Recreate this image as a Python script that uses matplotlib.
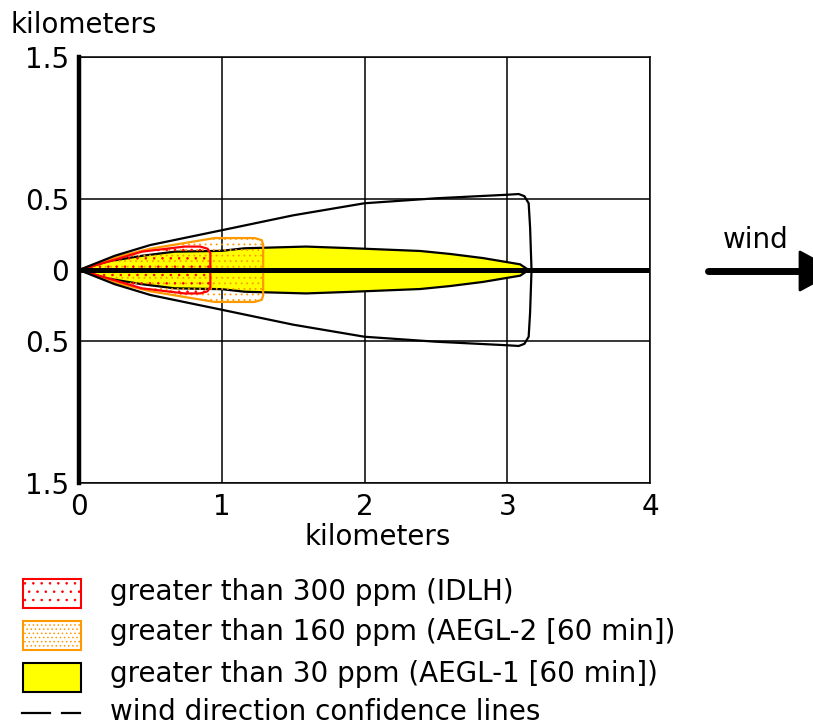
import numpy as np
import matplotlib
matplotlib.use('Agg')
from matplotlib import pyplot as plt
from matplotlib.patches import Rectangle, Polygon

# threat zones, upper half-width (km) along the downwind distance (km); zones are symmetric
red_x = [0, 0.2, 0.44, 0.74, 0.85, 0.9, 0.92, 0.92]
red_w = [0, 0.058, 0.129, 0.165, 0.165, 0.15, 0.12, 0]

orange_x = [0, 0.27, 0.5, 0.74, 0.95, 1.23, 1.28, 1.29, 1.29]
orange_w = [0, 0.094, 0.15, 0.19, 0.225, 0.225, 0.21, 0.18, 0]

yellow_x = [0, 0.2, 0.44, 0.67, 1.0, 1.16, 1.59, 1.87, 2.39, 2.6, 2.83, 3.09, 3.15]
yellow_w = [0, 0.06, 0.10, 0.129, 0.135, 0.153, 0.165, 0.155, 0.134, 0.113, 0.084, 0.04, 0]

# wind direction confidence lines
conf_x = [0, 0.25, 0.5, 1.0, 1.5, 2.0, 2.5, 3.0, 3.08, 3.12, 3.15, 3.16, 3.17]
conf_w = [0, 0.10, 0.176, 0.28, 0.385, 0.47, 0.505, 0.53, 0.535, 0.52, 0.47, 0.3, 0]

x_ticks = [0, 1, 2, 3, 4]
y_ticks = [-1.5, -0.5, 0, 0.5, 1.5]
y_tick_labels = ['1.5', '0.5', '0', '0.5', '1.5']

legend_labels = [
    'greater than 300 ppm (IDLH)',
    'greater than 160 ppm (AEGL-2 [60 min])',
    'greater than 30 ppm (AEGL-1 [60 min])',
    'wind direction confidence lines',
]

RED = '#ff0000'
ORANGE = '#ff9900'
YELLOW = '#ffff00'

plt.rcParams['font.family'] = 'DejaVu Sans'
plt.rcParams['hatch.linewidth'] = 0.6
FS = 20


def outline(xs, ws):
    xs = np.asarray(xs, float)
    ws = np.asarray(ws, float)
    return np.concatenate([xs, xs[::-1]]), np.concatenate([ws, -ws[::-1]])


fig = plt.figure(figsize=(8.13, 7.26), dpi=100)
ax = fig.add_axes([79 / 813, 1 - 483 / 726, 571 / 813, 426 / 726])

ax.set_xlim(0, 4)
ax.set_ylim(-1.5, 1.5)
ax.set_xticks(x_ticks)
ax.set_yticks(y_ticks)
ax.set_yticklabels(y_tick_labels)
ax.tick_params(length=0, labelsize=FS, pad=7)
ax.grid(True, color='black', linewidth=1.1)
ax.set_axisbelow(True)
for side in ['top', 'right', 'bottom']:
    ax.spines[side].set_linewidth(1.1)
ax.spines['left'].set_linewidth(3.2)
ax.spines['left'].set_zorder(10)

# yellow zone
px, py = outline(yellow_x, yellow_w)
ax.fill(px, py, facecolor=YELLOW, edgecolor='black', linewidth=1.6, zorder=3)
# orange zone
px, py = outline(orange_x, orange_w)
ax.fill(px, py, facecolor='none', edgecolor=ORANGE, hatch='...', linewidth=1.6, zorder=4)
# red zone
px, py = outline(red_x, red_w)
ax.fill(px, py, facecolor='none', edgecolor=RED, hatch='..', linewidth=1.6, zorder=5)
# confidence lines
px, py = outline(conf_x, conf_w)
ax.plot(px, py, color='black', linewidth=1.6, zorder=6)
# downwind centre line
ax.plot([0, 4], [0, 0], color='black', linewidth=3.6, zorder=7)

fig.text(10 / 813, 1 - 25 / 726, 'kilometers', fontsize=FS, ha='left', va='center')
fig.text(378 / 813, 1 - 537 / 726, 'kilometers', fontsize=FS, ha='center', va='center')

# overlay in pixel units for the wind arrow and legend
ov = fig.add_axes([0, 0, 1, 1])
ov.set_xlim(0, 813)
ov.set_ylim(726, 0)
ov.axis('off')

ov.plot([708, 802], [271, 271], color='black', linewidth=5, solid_capstyle='round')
ov.add_patch(Polygon([(800, 252), (800, 290), (835, 271)], closed=True, facecolor='black',
                     edgecolor='black', linewidth=2, joinstyle='round'))
ov.text(756, 240, 'wind', fontsize=FS, ha='center', va='center')

ov.add_patch(Rectangle((23, 579), 58, 29, facecolor='white', edgecolor=RED, hatch='..', linewidth=1.5))
ov.add_patch(Rectangle((23, 621), 58, 29, facecolor='white', edgecolor=ORANGE, hatch='....', linewidth=1.5))
ov.add_patch(Rectangle((23, 663), 58, 29, facecolor=YELLOW, edgecolor='black', linewidth=1.5))
ov.plot([22, 50], [713, 713], color='black', linewidth=1.6)
ov.plot([62, 80], [713, 713], color='black', linewidth=1.6)

for label, yc in zip(legend_labels, [592, 632, 674, 712]):
    ov.text(110, yc, label, fontsize=FS, ha='left', va='center')

fig.savefig('out.png', dpi=100)
